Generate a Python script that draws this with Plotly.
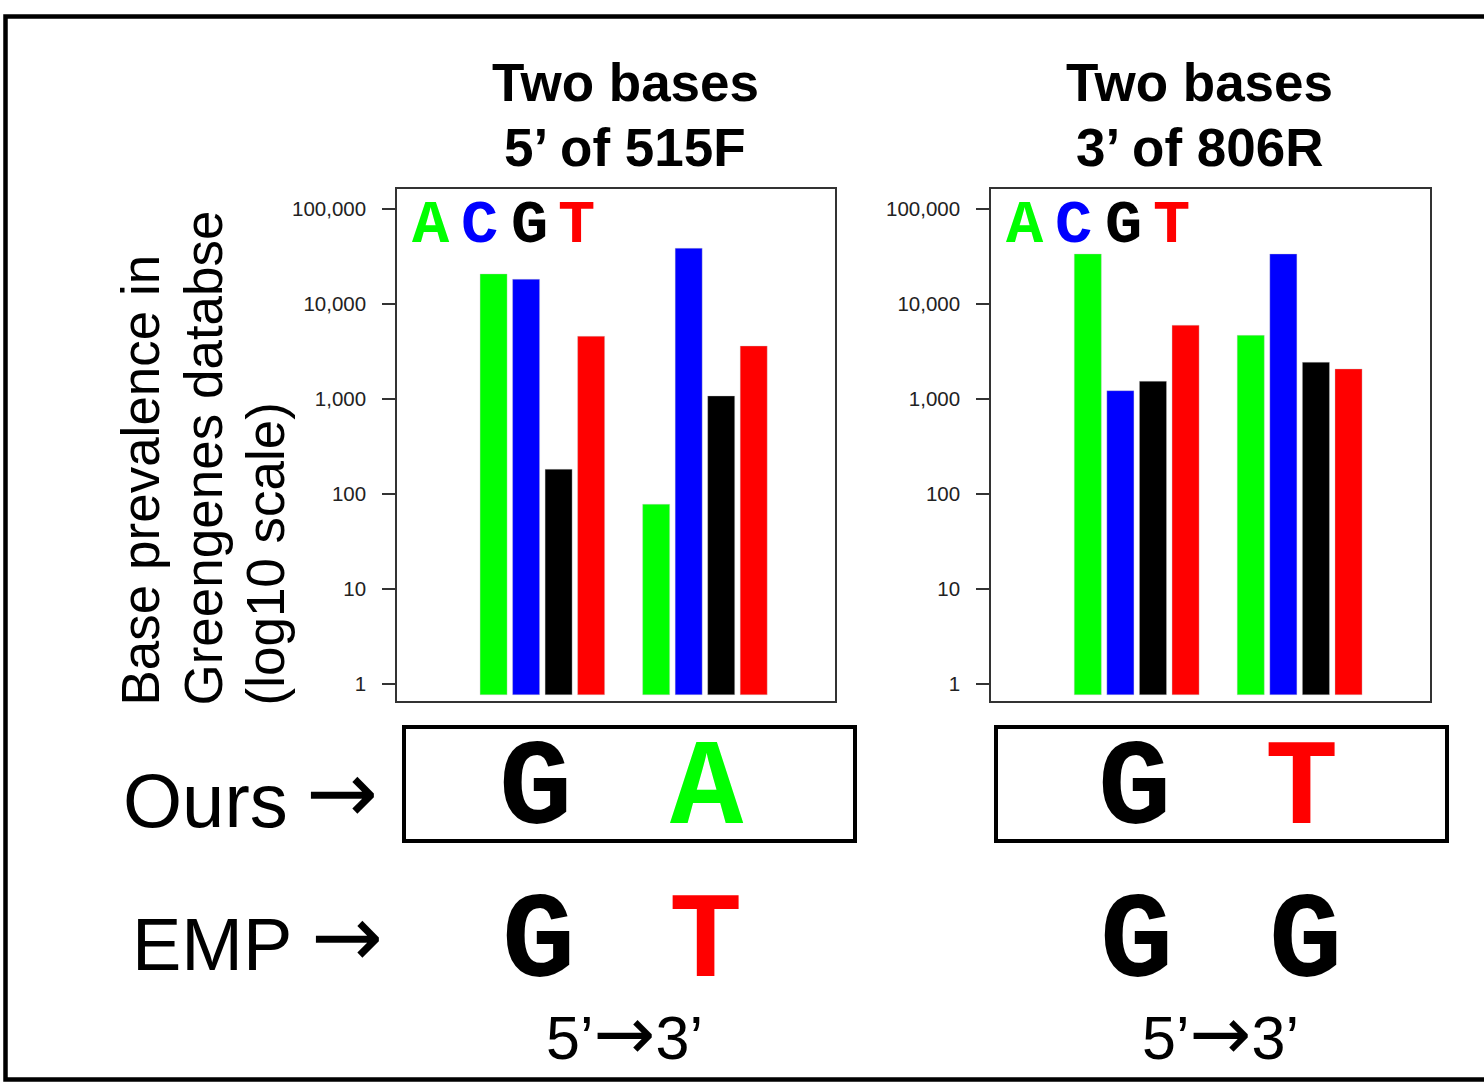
import plotly.graph_objects as go

# ---- data -------------------------------------------------------------
bases = ["A", "C", "G", "T"]
base_colors = ["#00ff00", "#0000ff", "#000000", "#ff0000"]

panel_titles = [["Two bases", "5\u2019 of 515F"], ["Two bases", "3\u2019 of 806R"]]

# Greengenes counts per base, first and second position of each primer flank
prev_515F_pos1 = [20700, 18200, 182, 4570]
prev_515F_pos2 = [78, 38600, 1076, 3610]
prev_806R_pos1 = [33600, 1223, 1536, 5970]
prev_806R_pos2 = [4680, 33600, 2433, 2070]

tick_vals = [1, 10, 100, 1000, 10000, 100000]
tick_text = ["1", "10", "100", "1,000", "10,000", "100,000"]

ours_bases = [["G", "A"], ["G", "T"]]
emp_bases = [["G", "T"], ["G", "G"]]

# ---- page geometry (pixels) --------------------------------------------
W, H = 1484, 1082


def px(x):
    return x / W


def py(y):
    return 1 - y / H


color_of = dict(zip(bases, base_colors))
sans = "Liberation Sans, Arial"
mono = "Courier New, Liberation Mono, monospace"
arrow_font = "DejaVu Sans"

fig = go.Figure()

panels = [
    (prev_515F_pos1, prev_515F_pos2, "x", "y"),
    (prev_806R_pos1, prev_806R_pos2, "x2", "y2"),
]
bar_base = 0.77
for pos1, pos2, xa, ya in panels:
    for i, b in enumerate(bases):
        fig.add_trace(go.Bar(
            x=[i + 1, i + 6], y=[pos1[i] - bar_base, pos2[i] - bar_base],
            base=bar_base, width=0.83,
            marker=dict(color=color_of[b], line=dict(width=0.6, color="rgba(200,200,200,0.6)")),
            xaxis=xa, yaxis=ya, showlegend=False, hoverinfo="skip",
        ))

plot_domains_x = [[px(397), px(835)], [px(991), px(1430)]]
y_dom = [py(701), py(189)]
y_range = [(684 - 701) / 95.0, 5 + (209 - 189) / 95.0]

axis_common = dict(showgrid=False, zeroline=False, showline=True, mirror=True,
                   linecolor="#333333", linewidth=1.5)
for k, dom in enumerate(plot_domains_x):
    sfx = "" if k == 0 else str(k + 1)
    fig.update_layout(**{
        "xaxis" + sfx: dict(domain=dom, range=[-1.97, 11.5], showticklabels=False,
                            ticks="", anchor="y" + sfx, **axis_common),
        "yaxis" + sfx: dict(domain=y_dom, type="log", range=y_range, anchor="x" + sfx,
                            tickvals=tick_vals, ticktext=tick_text, ticks="outside",
                            ticklen=13, tickwidth=1.5, tickcolor="#333333",
                            ticklabelstandoff=12,
                            tickfont=dict(family=sans, size=20.5, color="#222222"),
                            **axis_common),
    })

ann = []
shapes = []

# panel titles
title_cx = [625, 1199]
for k in range(2):
    for line, yc in zip(panel_titles[k], [83, 147]):
        ann.append(dict(x=px(title_cx[k]), y=py(yc), text="<b>" + line + "</b>",
                        font=dict(family=sans, size=53, color="black")))

# in-plot base key
key_cx = [[431, 480, 529, 576], [1025, 1073, 1123, 1171]]
for k in range(2):
    for b, cx in zip(bases, key_cx[k]):
        ann.append(dict(x=px(cx), y=py(226), text="<b>" + b + "</b>",
                        font=dict(family=mono, size=62, color=color_of[b])))

# y-axis title, three rotated lines sharing a baseline start
for line, cx in zip(["Base prevalence in", "Greengenes databse", "(log10 scale)"], [140, 203, 265]):
    ann.append(dict(x=px(cx), y=py(708), text=line, textangle=-90, yanchor="bottom",
                    font=dict(family=sans, size=53, color="black")))

# row labels with arrows
ann.append(dict(x=px(121), y=py(800), text="Ours", xanchor="left",
                font=dict(family=sans, size=76, color="black")))
ann.append(dict(x=px(342), y=py(792), text="\u2192",
                font=dict(family=arrow_font, size=86, color="black")))
ann.append(dict(x=px(130), y=py(944), text="EMP", xanchor="left",
                font=dict(family=sans, size=74, color="black")))
ann.append(dict(x=px(347), y=py(936), text="\u2192",
                font=dict(family=arrow_font, size=86, color="black")))

# chosen bases
ours_cx = [[535, 707], [1134, 1301]]
emp_cx = [[538, 705], [1136, 1305]]
for k in range(2):
    for b, cx in zip(ours_bases[k], ours_cx[k]):
        ann.append(dict(x=px(cx), y=py(790), text="<b>" + b + "</b>",
                        font=dict(family=mono, size=122, color=color_of[b])))
    for b, cx in zip(emp_bases[k], emp_cx[k]):
        ann.append(dict(x=px(cx), y=py(943), text="<b>" + b + "</b>",
                        font=dict(family=mono, size=122, color=color_of[b])))

# orientation notes
orient = ("5\u2019<span style=\"font-family:DejaVu Sans;font-size:74px\">\u2192</span>3\u2019")
for cx in [624, 1220]:
    ann.append(dict(x=px(cx), y=py(1033), text=orient,
                    font=dict(family=sans, size=61, color="black")))

for a in ann:
    a.setdefault("xref", "paper")
    a.setdefault("yref", "paper")
    a.setdefault("showarrow", False)
    a.setdefault("xanchor", "center")
    a.setdefault("yanchor", "middle")

# boxes around our choices
for x0, x1 in [(404, 855), (996, 1447)]:
    shapes.append(dict(type="rect", xref="paper", yref="paper",
                       x0=px(x0), x1=px(x1), y0=py(841), y1=py(727),
                       line=dict(color="black", width=4)))

# outer frame
shapes.append(dict(type="rect", xref="paper", yref="paper",
                   x0=px(5.5), x1=px(1495), y0=py(1079.5), y1=py(16.5),
                   line=dict(color="black", width=4.5)))

fig.update_layout(
    width=W, height=H, margin=dict(l=0, r=0, t=0, b=0),
    paper_bgcolor="white", plot_bgcolor="white",
    barmode="overlay", annotations=ann, shapes=shapes,
)

fig.write_html("out.html")
